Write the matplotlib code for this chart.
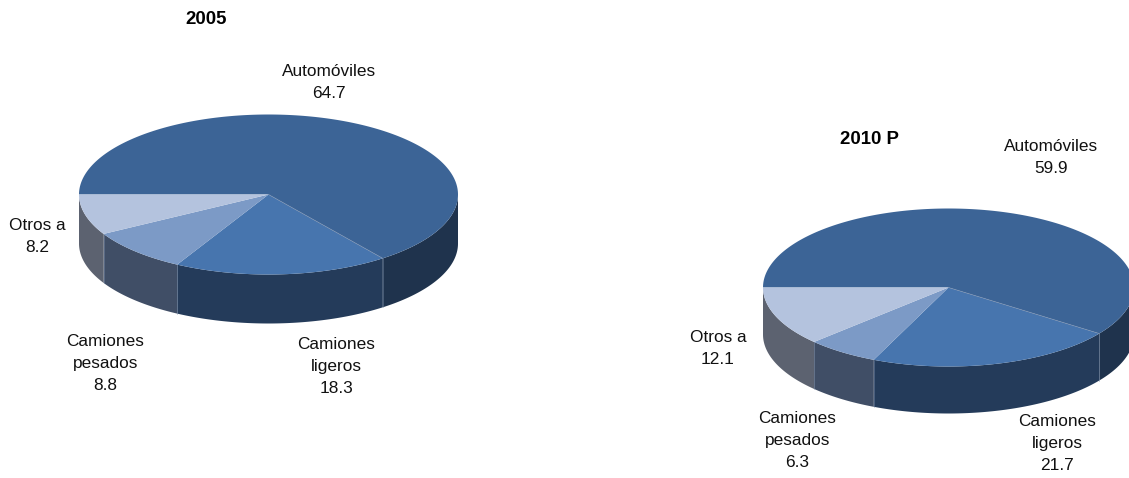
import matplotlib

matplotlib.use("Agg")
import matplotlib.pyplot as plt
import numpy as np
from matplotlib.patches import Polygon

plt.rcParams["font.family"] = ["Liberation Sans", "DejaVu Sans"]

categories = ["Automóviles", "Camiones\nligeros", "Camiones\npesados", "Otros a"]
values_2005 = [64.7, 18.3, 8.8, 8.2]
values_2010 = [59.9, 21.7, 6.3, 12.1]
labels_2005 = ["64.7", "18.3", "8.8", "8.2"]
labels_2010 = ["59.9", "21.7", "6.3", "12.1"]

top_colors = ["#3C6496", "#4775AE", "#7C9AC6", "#B4C3DE"]
side_colors = ["#1F334D", "#243B5A", "#404E66", "#5C6270"]
edge = "#7F93B0"


def draw_pie(ax, values, cx, cy, rx, ry, depth):
    """Flat 3D pie: wedges run clockwise from the left end of the ellipse."""
    shares = np.array(values) / np.sum(values) * 360
    ends = 180 - np.cumsum(shares)
    starts = np.r_[180, ends[:-1]]

    for i in range(len(values)):
        # only the front half of the rim (below the centre line) is visible
        a0, a1 = min(starts[i], 0), max(ends[i], -180)
        if a0 > a1:
            t = np.radians(np.linspace(a0, a1, 120))
            x = cx + rx * np.cos(t)
            y = cy - ry * np.sin(t)
            xs = np.r_[x, x[::-1]]
            ys = np.r_[y, y[::-1] + depth]
            ax.add_patch(Polygon(np.c_[xs, ys], fc=side_colors[i], ec="none", zorder=2))
            if a1 > -180:
                ax.plot([x[-1], x[-1]], [y[-1], y[-1] + depth], color=edge, lw=0.5,
                        alpha=0.6, zorder=3)

    for i in range(len(values)):
        t = np.radians(np.linspace(starts[i], ends[i], 200))
        xs = np.r_[cx, cx + rx * np.cos(t)]
        ys = np.r_[cy, cy - ry * np.sin(t)]
        ax.add_patch(Polygon(np.c_[xs, ys], fc=top_colors[i], ec="none", zorder=4))
        if i == 0:
            ax.plot([cx, xs[-1]], [cy, ys[-1]], color=edge, lw=0.5, alpha=0.8, zorder=5)


fig = plt.figure(figsize=(11.29, 4.78), dpi=100)
ax = fig.add_axes([0, 0, 1, 1])
ax.set_xlim(0, 1129)
ax.set_ylim(478, 0)
ax.axis("off")

draw_pie(ax, values_2005, 268.5, 194.5, 189.5, 80, 49)
draw_pie(ax, values_2010, 948.5, 287.5, 185.5, 79, 47)

ax.text(206, 19.5, "2005", ha="center", va="center", fontsize=13.4, fontweight="bold")
ax.text(869, 139.5, "2010 P", ha="center", va="center", fontsize=13.4, fontweight="bold")

spots_2005 = [(329, 82.5), (336.5, 366.5), (105.5, 363.5), (37, 236.5)]
spots_2010 = [(1051, 157.5), (1057, 443.5), (797.5, 440.5), (718, 348.5)]

for spots, labels in [(spots_2005, labels_2005), (spots_2010, labels_2010)]:
    for name, val, (x, y) in zip(categories, labels, spots):
        ax.text(x, y, f"{name}\n{val}", ha="center", va="center", fontsize=12.4,
                linespacing=1.62, color="#111111")

fig.savefig("out.png", dpi=100)
